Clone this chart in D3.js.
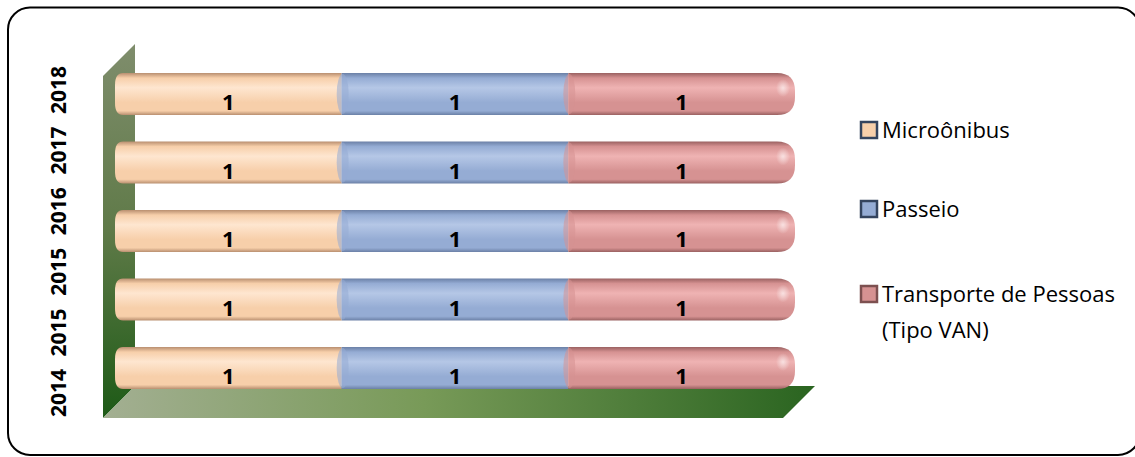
<body style="margin:0"></body>

<script src='https://d3js.org/d3.v7.min.js'></script>
<script>

    const width = 1135;
    const height = 457;

    // data
    const categories = ["2014", "2015", "2015 2016", "2016 2017", "2018"];
    const axisWords = ["2014", "2015", "2015", "2016", "2017", "2018"];
    const seriesNames = ["Microônibus", "Passeio", "Transporte de Pessoas (Tipo VAN)"];
    const microonibus = [1, 1, 1, 1, 1];
    const passeio = [1, 1, 1, 1, 1];
    const transporte = [1, 1, 1, 1, 1];

    const colors = [
        { dark: "#b98f70", mid: "#f7cfaa", light: "#fee6d0", edge: "#34445e" },
        { dark: "#6b80a6", mid: "#95acd4", light: "#b5c7e6", edge: "#34445e" },
        { dark: "#9a6161", mid: "#d69292", light: "#efb3b3", edge: "#7d5050" }
    ];

    const rows = categories.map(function (c, i) {
        return { cat: i, s0: microonibus[i], s1: passeio[i], s2: transporte[i] };
    });
    const stacked = d3.stack().keys(["s0", "s1", "s2"])(rows);

    const x = d3.scaleLinear()
        .domain([0, d3.max(rows, function (d) { return d.s0 + d.s1 + d.s2; })])
        .range([115, 795]);
    const y = d3.scalePoint()
        .domain(d3.range(categories.length))
        .range([368, 94]);
    const barH = 42;

    const svg = d3.select("body")
        .append("svg")
        .attr("width", width)
        .attr("height", height);

    const defs = svg.append("defs");
    colors.forEach(function (c, i) {
        const g = defs.append("linearGradient")
            .attr("id", "cyl" + i)
            .attr("x1", 0).attr("y1", 0).attr("x2", 0).attr("y2", 1);
        [[0, c.dark], [0.12, c.mid], [0.35, c.light], [0.7, c.mid], [0.9, c.mid], [1, c.dark]]
            .forEach(function (s) {
                g.append("stop").attr("offset", s[0]).attr("stop-color", s[1]);
            });
    });
    const wallGrad = defs.append("linearGradient")
        .attr("id", "wall").attr("x1", 0).attr("y1", 0).attr("x2", 0).attr("y2", 1);
    wallGrad.append("stop").attr("offset", 0).attr("stop-color", "#7f8d6c");
    wallGrad.append("stop").attr("offset", 0.5).attr("stop-color", "#5f7a48");
    wallGrad.append("stop").attr("offset", 1).attr("stop-color", "#1d5a16");
    const floorGrad = defs.append("linearGradient")
        .attr("id", "floor").attr("x1", 0).attr("y1", 0).attr("x2", 1).attr("y2", 0);
    floorGrad.append("stop").attr("offset", 0).attr("stop-color", "#a3af92");
    floorGrad.append("stop").attr("offset", 0.45).attr("stop-color", "#789a58");
    floorGrad.append("stop").attr("offset", 1).attr("stop-color", "#2a6420");
    const shine = defs.append("radialGradient").attr("id", "shine");
    shine.append("stop").attr("offset", 0).attr("stop-color", "#fff").attr("stop-opacity", 0.6);
    shine.append("stop").attr("offset", 1).attr("stop-color", "#fff").attr("stop-opacity", 0);

    // chart border
    svg.append("rect")
        .attr("x", 8).attr("y", 7.5)
        .attr("width", 1132).attr("height", 447.5)
        .attr("rx", 22)
        .attr("fill", "white")
        .attr("stroke", "black")
        .attr("stroke-width", 2);

    // 3d wall and floor
    const x0 = 103, x1 = 783, depth = 32;
    const wallTop = 44, floorY = 418;
    svg.append("path")
        .attr("d", "M" + x0 + "," + (wallTop + depth) + "L" + (x0 + depth) + "," + wallTop +
            "L" + (x0 + depth) + "," + (floorY - depth) + "L" + x0 + "," + floorY + "Z")
        .attr("fill", "url(#wall)");
    svg.append("path")
        .attr("d", "M" + x0 + "," + floorY + "L" + (x0 + depth) + "," + (floorY - depth) +
            "L" + (x1 + depth) + "," + (floorY - depth) + "L" + x1 + "," + floorY + "Z")
        .attr("fill", "url(#floor)");

    // bars
    const r = barH / 2;
    stacked.forEach(function (layer, li) {
        const g = svg.append("g");
        g.selectAll("path")
            .data(layer)
            .enter()
            .append("path")
            .attr("d", function (d, i) {
                const a = x(d[0]), b = x(d[1]), t = y(i) - r, bt = y(i) + r;
                if (li === 0) {
                    const k = 8;
                    return "M" + (a + k) + "," + t + "L" + b + "," + t + "L" + b + "," + bt +
                        "L" + (a + k) + "," + bt + "Q" + a + "," + bt + " " + a + "," + (bt - 12) +
                        "L" + a + "," + (t + 12) + "Q" + a + "," + t + " " + (a + k) + "," + t + "Z";
                }
                if (li === stacked.length - 1) {
                    const k = 18;
                    return "M" + a + "," + t + "L" + (b - k) + "," + t +
                        "Q" + b + "," + t + " " + b + "," + (t + k) +
                        "L" + b + "," + (bt - k) + "Q" + b + "," + bt + " " + (b - k) + "," + bt +
                        "L" + a + "," + bt + "Z";
                }
                return "M" + a + "," + t + "H" + b + "V" + bt + "H" + a + "Z";
            })
            .attr("fill", "url(#cyl" + li + ")");
        if (li > 0) {
            // curved seam where the segment starts
            g.selectAll("ellipse.seam")
                .data(layer)
                .enter()
                .append("ellipse")
                .attr("class", "seam")
                .attr("cx", function (d) { return x(d[0]) + 1; })
                .attr("cy", function (d, i) { return y(i); })
                .attr("rx", 6)
                .attr("ry", r - 1)
                .attr("fill", colors[li].mid)
                .attr("opacity", 0.55);
        }
        if (li === stacked.length - 1) {
            g.selectAll("ellipse.shine")
                .data(layer)
                .enter()
                .append("ellipse")
                .attr("class", "shine")
                .attr("cx", function (d) { return x(d[1]) - 12; })
                .attr("cy", function (d, i) { return y(i) - 6; })
                .attr("rx", 7).attr("ry", 9)
                .attr("fill", "url(#shine)");
        }
        g.selectAll("text")
            .data(layer)
            .enter()
            .append("text")
            .attr("x", function (d) { return (x(d[0]) + x(d[1])) / 2; })
            .attr("y", function (d, i) { return y(i) + 16; })
            .attr("text-anchor", "middle")
            .style("font-family", "'Open Sans', sans-serif")
            .style("font-weight", "bold")
            .style("font-size", "22px")
            .text(function (d) { return d[1] - d[0]; });
    });

    // category axis words (rotated)
    const ya = d3.scalePoint()
        .domain(d3.range(axisWords.length))
        .range([393, 90]);
    svg.append("g")
        .selectAll("text")
        .data(axisWords)
        .enter()
        .append("text")
        .attr("transform", function (d, i) { return "translate(66," + ya(i) + ") rotate(-90)"; })
        .attr("text-anchor", "middle")
        .style("font-family", "'Open Sans', sans-serif")
        .style("font-weight", "bold")
        .style("font-size", "21px")
        .text(function (d) { return d; });

    // legend
    const legendY = [138, 217, 302];
    const leg = svg.append("g")
        .selectAll("g")
        .data(seriesNames)
        .enter()
        .append("g")
        .attr("transform", function (d, i) { return "translate(861," + legendY[i] + ")"; });
    leg.append("rect")
        .attr("x", 0).attr("y", -16)
        .attr("width", 16).attr("height", 16)
        .attr("fill", function (d, i) { return colors[i].mid; })
        .attr("stroke", function (d, i) { return colors[i].edge; })
        .attr("stroke-width", 2.5);
    leg.append("text")
        .attr("x", 21)
        .attr("y", 0)
        .style("font-family", "'Open Sans', sans-serif")
        .style("font-size", "22px")
        .each(function (d) {
            const parts = d === seriesNames[2] ? ["Transporte de Pessoas", "(Tipo VAN)"] : [d];
            d3.select(this).selectAll("tspan")
                .data(parts)
                .enter()
                .append("tspan")
                .attr("x", 21)
                .attr("dy", function (p, j) { return j === 0 ? 0 : 36; })
                .text(function (p) { return p; });
        });
</script>
